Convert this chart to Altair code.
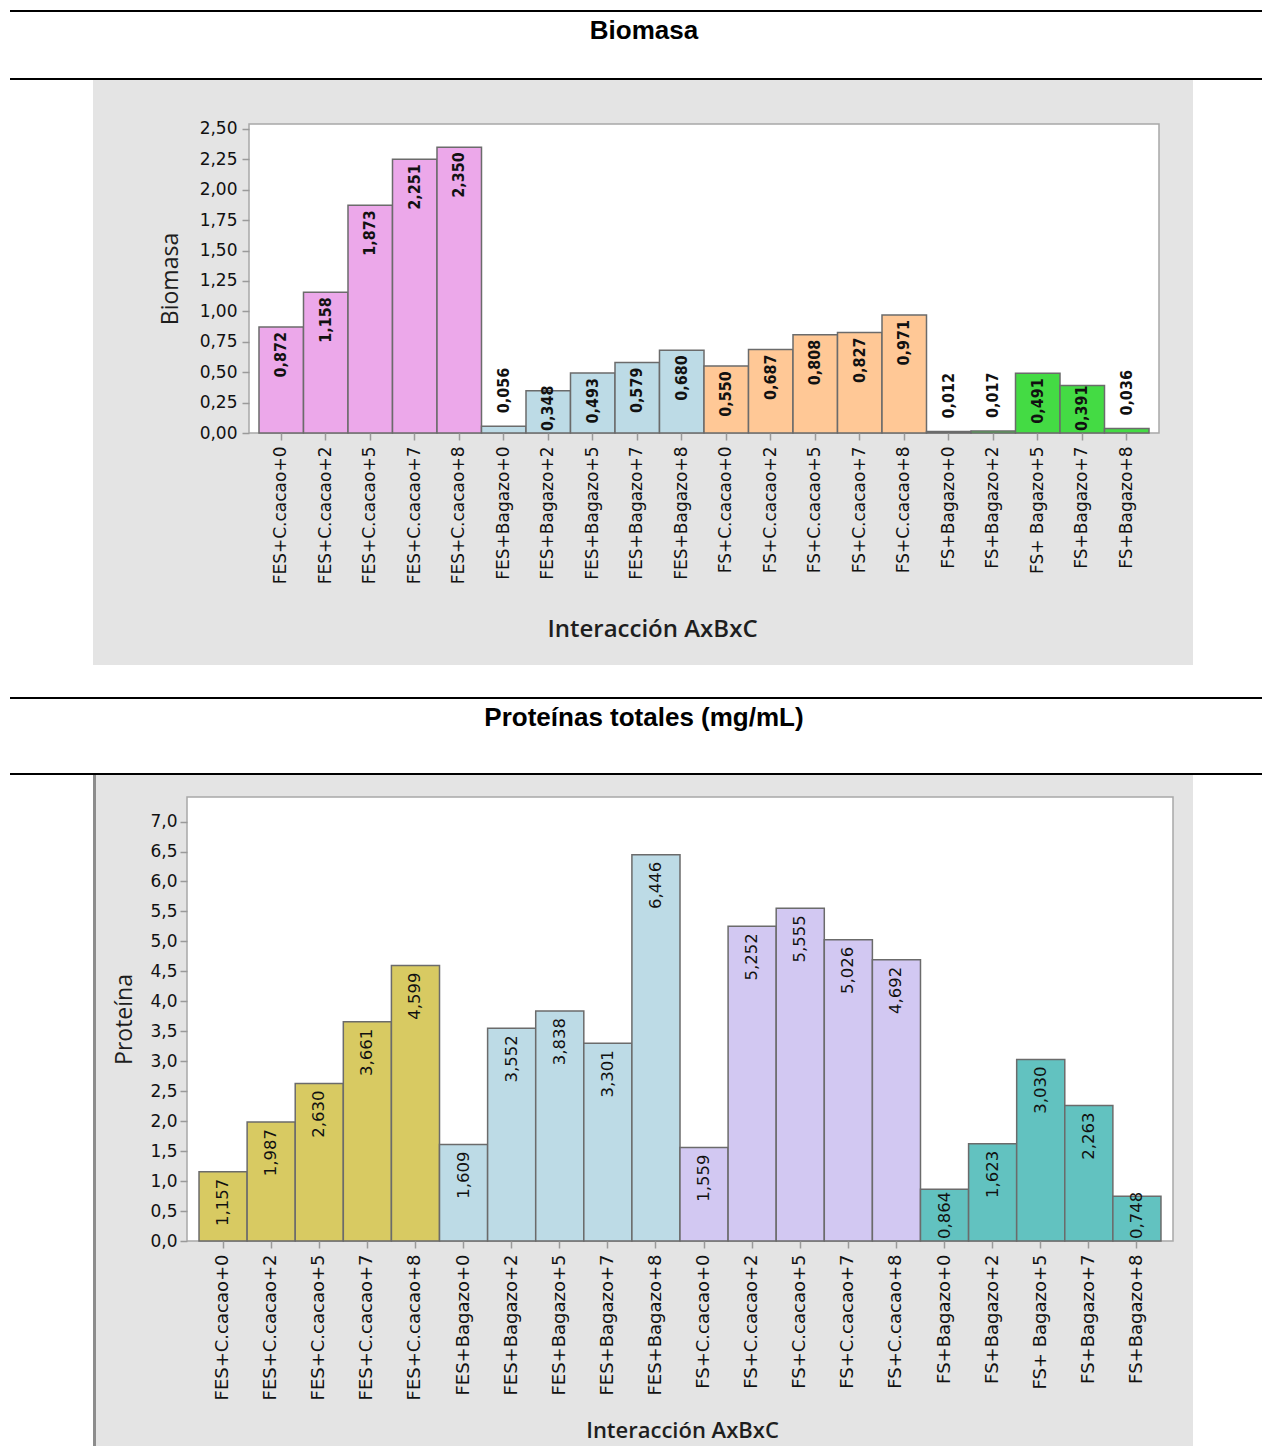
import altair as alt
import pandas as pd

categories = ["FES+C.cacao+0", "FES+C.cacao+2", "FES+C.cacao+5", "FES+C.cacao+7", "FES+C.cacao+8",
              "FES+Bagazo+0", "FES+Bagazo+2", "FES+Bagazo+5", "FES+Bagazo+7", "FES+Bagazo+8",
              "FS+C.cacao+0", "FS+C.cacao+2", "FS+C.cacao+5", "FS+C.cacao+7", "FS+C.cacao+8",
              "FS+Bagazo+0", "FS+Bagazo+2", "FS+ Bagazo+5", "FS+Bagazo+7", "FS+Bagazo+8"]
groups = ["FES+C.cacao"] * 5 + ["FES+Bagazo"] * 5 + ["FS+C.cacao"] * 5 + ["FS+Bagazo"] * 5
group_names = ["FES+C.cacao", "FES+Bagazo", "FS+C.cacao", "FS+Bagazo"]

biomasa = [0.872, 1.158, 1.873, 2.251, 2.350,
           0.056, 0.348, 0.493, 0.579, 0.680,
           0.550, 0.687, 0.808, 0.827, 0.971,
           0.012, 0.017, 0.491, 0.391, 0.036]
proteina = [1.157, 1.987, 2.630, 3.661, 4.599,
            1.609, 3.552, 3.838, 3.301, 6.446,
            1.559, 5.252, 5.555, 5.026, 4.692,
            0.864, 1.623, 3.030, 2.263, 0.748]

biomasa_ticks = [0.0, 0.25, 0.5, 0.75, 1.0, 1.25, 1.5, 1.75, 2.0, 2.25, 2.5]
proteina_ticks = [0.0, 0.5, 1.0, 1.5, 2.0, 2.5, 3.0, 3.5, 4.0, 4.5, 5.0, 5.5, 6.0, 6.5, 7.0]

colors_bio = ["#ECA8EA", "#BDDBE6", "#FFC896", "#44DB44"]
colors_prot = ["#D8CA62", "#BDDBE6", "#D2C8F2", "#62C2C0"]

title1 = "Biomasa"
title2 = "Proteínas totales (mg/mL)"
xtitle = "Interacción AxBxC"

one = pd.DataFrame({"k": [0]})
LABEL_EXPR = "replace(format(datum.v, '.3f'), '.', ',')"


def deco_rule(y, x1, x2, color="#000000", w=2):
    return alt.Chart(one).mark_rule(color=color, strokeWidth=w).encode(
        x=alt.value(x1), x2=alt.value(x2), y=alt.value(y))


def deco_rect(x1, x2, y1, y2, fill, stroke=None, sw=0):
    kw = dict(fill=fill)
    if stroke:
        kw.update(stroke=stroke, strokeWidth=sw)
    return alt.Chart(one).mark_rect(**kw).encode(
        x=alt.value(x1), x2=alt.value(x2), y=alt.value(y1), y2=alt.value(y2))


def deco_text(txt, x, y, size):
    return alt.Chart(one).mark_text(text=txt, font="Liberation Sans", fontWeight="bold",
                                    fontSize=size, baseline="middle", align="center",
                                    color="#000000").encode(x=alt.value(x), y=alt.value(y))


def make_panel(values, colors, ticks, ymax, tickfmt, W, H, xrange, outer, yoffset_axis,
               ytitle, ytitleX, xtitleX, xtitleY, xlabsize, xtitlesize, ylabpad,
               val_font, val_weight, val_size, in_off, bottom_thr, above_thr, deco):
    df = pd.DataFrame({"cat": categories, "grp": groups, "v": values})
    xs = alt.Scale(domain=categories, range=xrange, paddingInner=0, paddingOuter=outer)
    xax = alt.Axis(title=xtitle, labelAngle=270, labelFont="DejaVu Sans", labelFontSize=xlabsize,
                   labelColor="#111111", tickSize=7, tickColor="#9A9A9A", tickWidth=1.5,
                   labelPadding=6, domain=False, grid=False, titleFont="Open Sans",
                   titleFontWeight=600, titleFontSize=xtitlesize, titleColor="#1E1E1E",
                   titleX=xtitleX, titleY=xtitleY, titleBaseline="middle", titleAlign="center",
                   zindex=1)
    ys = alt.Scale(domain=[0, ymax], nice=False, zero=True)
    yax = alt.Axis(values=ticks, labelExpr="replace(format(datum.value, '%s'), '.', ',')" % tickfmt,
                   offset=yoffset_axis, tickSize=7, tickColor="#9A9A9A", tickWidth=1.5,
                   labelPadding=ylabpad, labelFont="DejaVu Sans", labelFontSize=17,
                   labelColor="#111111", domain=False, grid=False, title=ytitle,
                   titleFont="Open Sans", titleFontWeight="normal", titleFontSize=23,
                   titleColor="#1E1E1E", titleX=ytitleX, titleY=H / 2, titleAngle=270,
                   titleBaseline="middle", titleAlign="center", zindex=1)

    def X():
        return alt.X("cat:N", sort=categories, scale=xs, axis=xax)

    def Y(field):
        return alt.Y(field, scale=ys, axis=yax)

    bars = alt.Chart(df).mark_bar(stroke="#6B6B6B", strokeWidth=1.5).encode(
        x=X(), y=Y("v:Q"),
        color=alt.Color("grp:N", scale=alt.Scale(domain=group_names, range=colors), legend=None))

    base = alt.Chart(df).transform_calculate(lbl=LABEL_EXPR, z="0")
    tkw = dict(angle=270, baseline="middle", font=val_font, fontWeight=val_weight,
               fontSize=val_size, color="#111111")
    inside = base.transform_filter("datum.v >= %f" % bottom_thr).mark_text(
        align="right", yOffset=in_off, **tkw).encode(x=X(), y=Y("v:Q"), text="lbl:N")
    bottom = base.transform_filter("datum.v < %f && datum.v >= %f" % (bottom_thr, above_thr)).mark_text(
        align="left", yOffset=-2, **tkw).encode(x=X(), y=Y("z:Q"), text="lbl:N")
    above = base.transform_filter("datum.v < %f" % above_thr).mark_text(
        align="left", yOffset=-13, **tkw).encode(x=X(), y=Y("v:Q"), text="lbl:N")

    plot_rect = deco_rect(xrange[0], W, 0, H, "#FFFFFF", "#A8A8A8", 1.5)
    return alt.layer(*deco, plot_rect, bars, inside, bottom, above).properties(width=W, height=H)


# Panel 1 (origin at page x=187, y=124)
deco1 = [
    deco_rule(-113, -177, 1075),
    deco_rule(-45, -177, 1075),
    deco_rect(-94, 1006, -44, 541, "#E4E4E4"),
    deco_text(title1, 457, -93, 26),
]
panel1 = make_panel(biomasa, colors_bio, biomasa_ticks, 2.541, ".2f", 972, 309, [62, 972], 0.2247,
                    -62, "Biomasa", -79, 465, 196, 17, 24, 5,
                    '"Liberation Sans Narrow", "DejaVu Sans Condensed", "Roboto"', "bold", 16, 5,
                    0.4, 0.1, deco1)

# Panel 2 (origin at page x=187, y=797)
deco2 = [
    deco_rule(-99, -177, 1075),
    deco_rule(-23, -177, 1075),
    deco_rect(-94, 1006, -22, 649, "#E4E4E4"),
    deco_rect(-94, -91, -22, 649, "#8C8C8C"),
    deco_text(title2, 457, -79, 26),
]
panel2 = make_panel(proteina, colors_prot, proteina_ticks, 7.41, ".1f", 986, 444, [0, 986], 0.25,
                    0, "Proteína", -63, 495, 189, 18, 22, 3,
                    "DejaVu Sans", "normal", 16.5, 7,
                    1.0, -1.0, deco2)

chart = alt.vconcat(panel1, panel2, spacing=364, bounds="flush").resolve_scale(
    color="independent", x="independent", y="independent"
).properties(
    padding={"left": 9, "top": 10, "right": 0, "bottom": 0},
    background="#FFFFFF",
).configure_view(strokeWidth=0)

chart.save("out.html", embed_options={"renderer": "svg", "actions": False})
